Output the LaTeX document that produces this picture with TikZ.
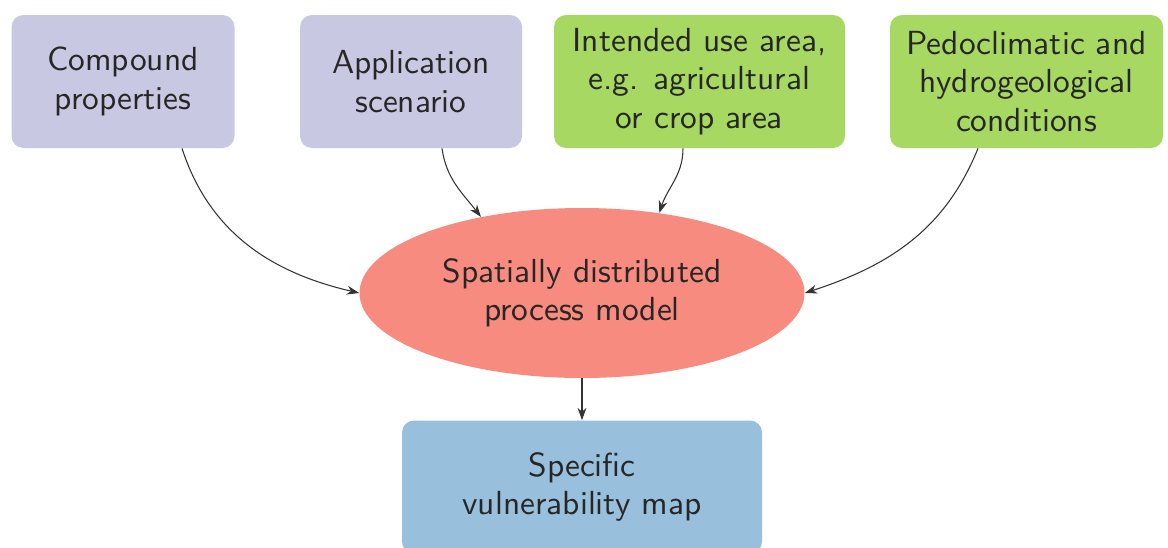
\documentclass[tikz,border=0pt]{standalone}
\usepackage{fontspec}
\setsansfont{lmsans10-regular.otf}
\usepackage{tikz}
\usetikzlibrary{positioning, arrows.meta, shapes.geometric}
\usepackage{xcolor}
\definecolor{InputLilac}{HTML}{C9C8E2}
\definecolor{SiteGreen}{HTML}{A6D862}
\definecolor{ModelSalmon}{HTML}{F88B7F}
\definecolor{MapBlue}{HTML}{98BFDC}

\begin{document}
\begin{tikzpicture}[
    every node/.style={font=\sffamily\fontsize{19}{21.8}\selectfont, text=black!85},
    inp/.style={rounded corners=0.24cm, align=center, fill=InputLilac,
                minimum height=2.66cm},
    site/.style={rounded corners=0.24cm, align=center, fill=SiteGreen,
                 minimum height=2.66cm},
    model/.style={ellipse, align=center, fill=ModelSalmon,
                  minimum width=8.9cm, minimum height=3.4cm},
    outp/.style={rounded corners=0.24cm, align=center, fill=MapBlue,
                 minimum height=2.66cm, minimum width=7.2cm},
    arr/.style={-{Stealth[length=7pt, width=5pt]}, semithick, black!80},
  ]
    \useasboundingbox (0,0) rectangle (23.36,-10.94);

    \node[inp, minimum width=4.46cm]  (comp) at (2.46,-1.63)  {Compound\\properties};
    \node[inp, minimum width=4.44cm]  (scen) at (8.22,-1.63)  {Application\\scenario};
    \node[site, minimum width=5.82cm] (area) at (13.99,-1.63)
      {Intended use area,\\e.g. agricultural\\or crop area};
    \node[site, minimum width=5.46cm] (cond) at (20.53,-1.63)
      {Pedoclimatic and\\hydrogeological\\conditions};
    \node[model]                      (proc) at (11.64,-5.86)
      {Spatially distributed\\process model};
    \node[outp]                       (vmap) at (11.64,-9.74)
      {Specific\\vulnerability map};

    \draw[arr] ([xshift=1.18cm]comp.south) to[out=-72, in=167] (proc.west);
    \draw[arr] ([xshift=0.62cm]scen.south) to[out=-82, in=128] (proc.143);
    \draw[arr] ([xshift=-0.33cm]area.south) to[out=-90, in=72] (proc.46);
    \draw[arr] ([xshift=-0.97cm]cond.south) to[out=-112, in=18] (proc.east);
    \draw[arr] (proc.south) -- (vmap.north);
  \end{tikzpicture}
\end{document}
